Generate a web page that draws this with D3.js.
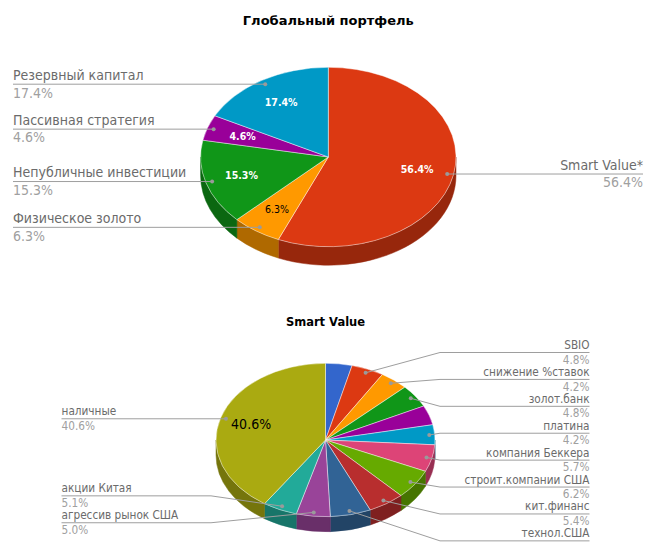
<!DOCTYPE html>
<html>
<head>
<meta charset="utf-8">
<script src="https://cdn.jsdelivr.net/npm/d3@7"></script>
<style>
body { margin: 0; background: #fff; }
text { font-family: "DejaVu Sans Condensed", "DejaVu Sans", sans-serif; }
</style>
</head>
<body>
<script>
var width = 658;
var height = 551;

// Глобальный портфель
var globalNames = ['Smart Value*', 'Физическое золото', 'Непубличные инвестиции', 'Пассивная стратегия', 'Резервный капитал'];
var globalValues = [56.4, 6.3, 15.3, 4.6, 17.4];
var globalColors = ['#dc3912', '#ff9900', '#109618', '#990099', '#0099c6'];

// Smart Value (two smallest slices have no visible label in the source)
var smartNames = ['', 'SBIO', 'снижение %ставок', 'золот.банк', '', 'платина', 'компания Беккера',
    'строит.компании США', 'кит.финанс', 'технол.США', 'агрессив рынок США', 'акции Китая', 'наличные'];
var smartValues = [3.9, 4.8, 4.2, 4.8, 4.1, 4.2, 5.7, 6.2, 5.4, 6.0, 5.0, 5.1, 40.6];
var smartColors = ['#3366cc', '#dc3912', '#ff9900', '#109618', '#990099', '#0099c6', '#dd4477',
    '#66aa00', '#b82e2e', '#316395', '#994499', '#22aa99', '#aaaa11'];

var svg = d3.select('body').append('svg').attr('width', width).attr('height', height);

pie3d({
    title: 'Глобальный портфель', titleY: 25, titleSize: 13,
    cx: 328.3, cy: 157, rx: 127.7, ry: 89.7, depth: 18.5,
    left: 13, right: 643, labelTop: 50, fontSize: 14, textSize: 10.5, textMin: 4, maxPerSide: 8
}, globalNames, globalValues, globalColors);

pie3d({
    title: 'Smart Value', titleY: 325.5, titleSize: 11.5,
    cx: 325.5, cy: 440, rx: 109.5, ry: 76.7, depth: 15,
    left: 61.5, right: 589.5, labelTop: 352.5, fontSize: 11.7, textSize: 14, textMin: 10, maxPerSide: 8
}, smartNames, smartValues, smartColors);

function pie3d(o, names, values, colors) {
    var g = svg.append('g');
    var data = names.map(function (n, i) {
        return { name: n, value: values[i], color: colors[i] };
    });
    var total = d3.sum(values);
    var fmt = d3.format('.1f');
    var arcs = d3.pie().sort(null).value(function (d) { return d.value; })
        .startAngle(0).endAngle(2 * Math.PI)(data);

    function p(a, r) {
        r = r === undefined ? 1 : r;
        return [o.cx + r * o.rx * Math.sin(a), o.cy - r * o.ry * Math.cos(a)];
    }

    // title
    svg.append('text')
        .attr('x', o.cx).attr('y', o.titleY)
        .attr('text-anchor', 'middle')
        .style('font-family', '"DejaVu Sans", sans-serif')
        .style('font-weight', 'bold')
        .style('font-size', o.titleSize + 'px')
        .attr('fill', '#000')
        .text(o.title);

    // side walls (front half only)
    arcs.forEach(function (d) {
        var s = Math.max(d.startAngle, Math.PI / 2);
        var e = Math.min(d.endAngle, 3 * Math.PI / 2);
        if (s >= e) return;
        var a = p(s), b = p(e);
        var path = 'M' + a + 'A' + o.rx + ',' + o.ry + ' 0 0 1 ' + b +
            'L' + b[0] + ',' + (b[1] + o.depth) +
            'A' + o.rx + ',' + o.ry + ' 0 0 0 ' + a[0] + ',' + (a[1] + o.depth) + 'Z';
        var c = d3.color(d.data.color).darker(1.05);
        g.append('path').attr('d', path).attr('fill', c).attr('stroke', c).attr('stroke-width', 0.5);
    });

    // top faces
    arcs.forEach(function (d) {
        var a = p(d.startAngle), b = p(d.endAngle);
        var large = d.endAngle - d.startAngle > Math.PI ? 1 : 0;
        var path = 'M' + o.cx + ',' + o.cy + 'L' + a +
            'A' + o.rx + ',' + o.ry + ' 0 ' + large + ' 1 ' + b + 'Z';
        g.append('path').attr('d', path).attr('fill', d.data.color)
            .attr('stroke', '#fff').attr('stroke-opacity', 0.55).attr('stroke-width', 0.8)
            .attr('stroke-linejoin', 'round');
    });

    // slice text
    arcs.forEach(function (d) {
        var pct = d.data.value / total * 100;
        if (pct < o.textMin) return;
        var mid = (d.startAngle + d.endAngle) / 2;
        var pt = p(mid, 0.71);
        var rgb = d3.rgb(d.data.color);
        var lum = 0.2126 * lin(rgb.r) + 0.7152 * lin(rgb.g) + 0.0722 * lin(rgb.b);
        var dark = lum > 0.3;
        g.append('text')
            .attr('x', pt[0]).attr('y', pt[1]).attr('dy', '0.36em')
            .attr('text-anchor', 'middle')
            .style('font-size', o.textSize + 'px')
            .style('font-weight', dark ? 'normal' : 'bold')
            .attr('fill', dark ? '#000' : '#fff')
            .text(fmt(pct) + '%');
    });

    // outside labels
    var gap = o.fontSize * 2.3;
    var sides = { left: [], right: [] };
    arcs.forEach(function (d) {
        var mid = (d.startAngle + d.endAngle) / 2;
        var dot = p(mid, 0.95);
        sides[mid < Math.PI ? 'right' : 'left'].push({ d: d, dot: dot, y0: dot[1] });
    });
    ['left', 'right'].forEach(function (k) {
        var items = sides[k];
        // drop the smallest slices when a side is too crowded
        items.sort(function (a, b) { return b.d.data.value - a.d.data.value; });
        items = items.slice(0, o.maxPerSide);
        spread(items, gap, o.labelTop);
        items.forEach(function (it) {
            var isRight = k === 'right';
            var bendX = isRight ? o.cx + o.rx + 5 : o.cx - o.rx - 5;
            var endX = isRight ? o.right : o.left;
            var pts = [it.dot, [bendX, it.y], [endX, it.y]];
            if (Math.abs(it.y - it.dot[1]) < 0.5) pts = [it.dot, [endX, it.y]];
            g.append('path').attr('d', d3.line()(pts))
                .attr('fill', 'none').attr('stroke', '#9e9e9e').attr('stroke-width', 1);
            g.append('circle').attr('cx', it.dot[0]).attr('cy', it.dot[1]).attr('r', 2)
                .attr('fill', '#9a9a9a');
            var anchor = isRight ? 'end' : 'start';
            g.append('text').attr('x', endX).attr('y', it.y - 0.3 * o.fontSize)
                .attr('text-anchor', anchor).style('font-size', o.fontSize + 'px')
                .attr('fill', '#6b6b6b').text(it.d.data.name);
            // a second line that would not fit in the picture is left out
            if (it.y + 0.95 * o.fontSize > height) return;
            g.append('text').attr('x', endX).attr('y', it.y + 0.95 * o.fontSize)
                .attr('text-anchor', anchor).style('font-size', o.fontSize + 'px')
                .attr('fill', '#a0a0a0').text(fmt(it.d.data.value / total * 100) + '%');
        });
    });
}

function lin(c) {
    c /= 255;
    return c <= 0.04045 ? c / 12.92 : Math.pow((c + 0.055) / 1.055, 2.4);
}

// push overlapping labels apart, keeping each cluster centred on its slices
// but never above the top of the label area
function spread(items, gap, minY) {
    items.sort(function (a, b) { return a.y0 - b.y0; });
    var groups = items.map(function (d) { return { items: [d], top: Math.max(minY, d.y0) }; });
    var merged = true;
    while (merged) {
        merged = false;
        for (var i = 0; i < groups.length - 1; i++) {
            var a = groups[i], b = groups[i + 1];
            if (a.top + a.items.length * gap > b.top) {
                var all = a.items.concat(b.items);
                var mean = d3.mean(all, function (d) { return d.y0; });
                groups.splice(i, 2, { items: all, top: Math.max(minY, mean - (all.length - 1) * gap / 2) });
                merged = true;
                break;
            }
        }
    }
    groups.forEach(function (gr) {
        gr.items.forEach(function (d, i) { d.y = gr.top + i * gap; });
    });
}
</script>
</body>
</html>
